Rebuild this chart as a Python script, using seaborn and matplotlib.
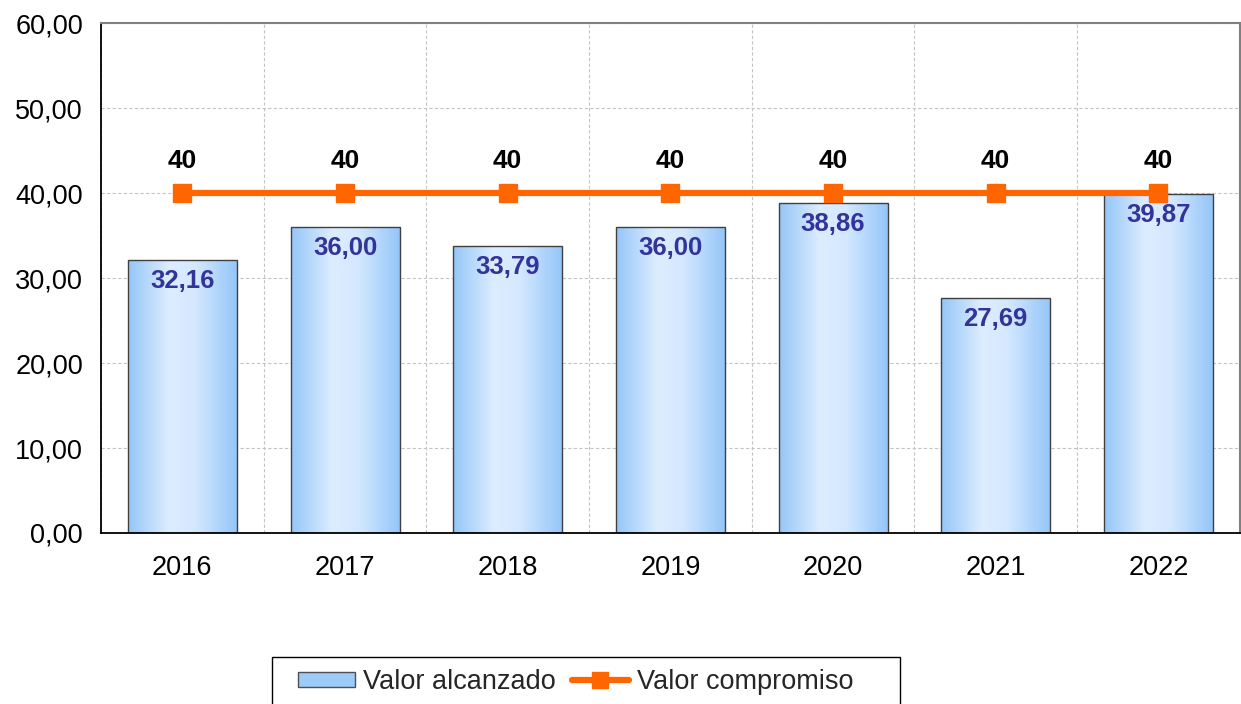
import numpy as np
import pandas as pd
import matplotlib
matplotlib.use("Agg")
import matplotlib.pyplot as plt
import seaborn as sns
from matplotlib.colors import LinearSegmentedColormap
from matplotlib.lines import Line2D
from matplotlib.patches import Patch, Rectangle
from matplotlib.ticker import FixedLocator, FuncFormatter

# ==========================================
# DATA
# ==========================================

years = ["2016", "2017", "2018", "2019", "2020", "2021", "2022"]
valor_alcanzado = [32.16, 36.00, 33.79, 36.00, 38.86, 27.69, 39.87]
valor_compromiso = [40, 40, 40, 40, 40, 40, 40]

df = pd.DataFrame({"year": years, "alcanzado": valor_alcanzado, "compromiso": valor_compromiso})

# ==========================================
# STYLE
# ==========================================

sns.set_style("white")
plt.rcParams["font.family"] = ["Liberation Sans", "DejaVu Sans"]

W, H = 1241, 704
fig = plt.figure(figsize=(W / 100, H / 100), dpi=100)
ax = fig.add_axes([0.0814, 0.2429, 0.9176, 0.7244])

# ==========================================
# BARS
# ==========================================

sns.barplot(data=df, x="year", y="alcanzado", ax=ax, width=0.67,
            color="#9ccbf9", edgecolor="#404040", linewidth=1.0, zorder=2)

grad_cmap = LinearSegmentedColormap.from_list(
    "bar_grad", [(0.0, "#95c6f8"), (0.38, "#ddedff"), (0.62, "#d4e8ff"), (1.0, "#95c6f8")])
grad = np.linspace(0, 1, 256).reshape(1, -1)

for patch in ax.patches:
    x0 = patch.get_x()
    w = patch.get_width()
    h = patch.get_height()
    im = ax.imshow(grad, cmap=grad_cmap, extent=[x0, x0 + w, 0, h],
                   aspect="auto", zorder=2.1, interpolation="bicubic")
    im.set_clip_path(patch)
    patch.set_facecolor("none")
    patch.set_zorder(2.2)

for i, v in enumerate(valor_alcanzado):
    ax.text(i, v - 1.1, f"{v:.2f}".replace(".", ","), ha="center", va="top",
            fontsize=18.5, fontweight="bold", color="#333399", zorder=5)

# ==========================================
# LINE
# ==========================================

ax.plot(range(len(years)), valor_compromiso, color="#ff6600", linewidth=4.5,
        marker="s", markersize=13, zorder=4)

for i, v in enumerate(valor_compromiso):
    ax.text(i, v + 2.4, str(v), ha="center", va="bottom",
            fontsize=19, fontweight="bold", color="black", zorder=5)

# ==========================================
# AXES
# ==========================================

ax.set_xlim(-0.5, len(years) - 0.5)
ax.set_ylim(0, 60)
ax.set_yticks(np.arange(0, 61, 10))
ax.yaxis.set_major_formatter(FuncFormatter(lambda v, p: f"{v:.2f}".replace(".", ",")))

ax.set_xticks(range(len(years)))
ax.set_xticklabels(years)
ax.xaxis.set_minor_locator(FixedLocator(np.arange(-0.5, len(years), 1.0)))
ax.tick_params(axis="x", which="major", length=4, width=1.2, pad=12, labelsize=19.5, colors="black")
ax.tick_params(axis="x", which="minor", length=7, width=1.2, colors="black")
ax.tick_params(axis="y", which="major", length=6, width=1.2, labelsize=19.5, colors="black", pad=7)

ax.set_xlabel("")
ax.set_ylabel("")

ax.grid(False)
ax.yaxis.grid(True, linestyle=(0, (3, 2)), color="#c4c4c4", linewidth=0.8, zorder=0)
ax.xaxis.grid(True, which="minor", linestyle=(0, (3, 2)), color="#c4c4c4", linewidth=0.8, zorder=0)
ax.set_axisbelow(True)

ax.spines["left"].set_color("black")
ax.spines["bottom"].set_color("black")
ax.spines["left"].set_linewidth(1.3)
ax.spines["bottom"].set_linewidth(1.3)
ax.spines["top"].set_color("#808080")
ax.spines["right"].set_color("#808080")
ax.spines["top"].set_linewidth(1.5)
ax.spines["right"].set_linewidth(1.5)

# ==========================================
# LEGEND
# ==========================================

handles = [
    Patch(facecolor="#9ccbf9", edgecolor="#505050", label="Valor alcanzado"),
    Line2D([0], [0], color="#ff6600", linewidth=4.5, marker="s", markersize=11,
           label="Valor compromiso"),
]
leg = fig.legend(handles=handles, loc="center left", bbox_to_anchor=(298 / W, 1 - 682 / H),
                 ncol=2, fontsize=19.5, frameon=False, borderpad=0, borderaxespad=0,
                 handlelength=2.1, handleheight=0.5, handletextpad=0.3, columnspacing=0.6)

fig.patches.append(Rectangle((272 / W, -0.02), (900 - 272) / W, (0.02 + 1 - 657 / H),
                             transform=fig.transFigure, fill=False,
                             edgecolor="black", linewidth=1.0))

fig.savefig("out.png", dpi=100)
